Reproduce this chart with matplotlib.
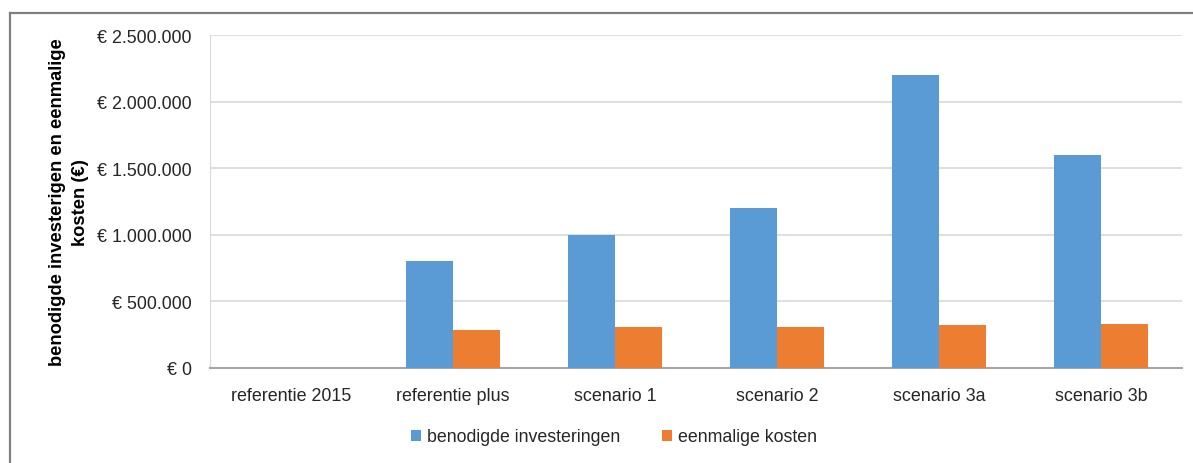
import matplotlib
matplotlib.use("Agg")
import matplotlib.pyplot as plt
from matplotlib.lines import Line2D
from matplotlib.ticker import FuncFormatter
import numpy as np

plt.rcParams['font.family'] = ['Liberation Sans', 'DejaVu Sans']

categories = ["referentie 2015", "referentie plus", "scenario 1", "scenario 2", "scenario 3a", "scenario 3b"]
investeringen = [0, 800000, 1000000, 1200000, 2200000, 1600000]
eenmalig = [0, 285000, 311000, 311000, 326000, 333000]
series_names = ["benodigde investeringen", "eenmalige kosten"]
yticks = [0, 500000, 1000000, 1500000, 2000000, 2500000]

W, H = 1193, 464
fig = plt.figure(figsize=(W/100, H/100), dpi=100)
ax = fig.add_axes([210/W, 1-369/H, (1182-210)/W, (369-36)/H])

x = np.arange(len(categories))
bw = 0.29
ax.bar(x - bw/2, investeringen, bw, color="#5B9BD5", label=series_names[0], zorder=3)
ax.bar(x + bw/2, eenmalig, bw, color="#ED7D31", label=series_names[1], zorder=3)

ax.set_xlim(-0.5, len(categories) - 0.5)
ax.set_ylim(0, 2500000)
ax.set_yticks(yticks)
def fmt(v, pos):
    if v == 0:
        return "€ 0"
    return "€ " + f"{int(v):,}".replace(",", ".")
ax.yaxis.set_major_formatter(FuncFormatter(fmt))
ax.set_xticks(x)
ax.set_xticklabels(categories)
ax.tick_params(axis='both', length=0, labelsize=12.9, colors="#404040", labelcolor="#262626")
ax.tick_params(axis='y', pad=13)
ax.tick_params(axis='x', pad=14)
ax.grid(axis='y', color="#D9D9D9", linewidth=1.2, zorder=0)
for s in ["top", "right"]:
    ax.spines[s].set_visible(False)
ax.spines["left"].set_color("#D9D9D9")
ax.spines["bottom"].set_color("#A6A6A6")
ax.spines["bottom"].set_linewidth(1.5)

ax.set_ylabel("benodigde investerigen en eenmalige\nkosten (€)", fontsize=13.2, fontweight="bold",
              color="#000000", linespacing=1.5)
ax.yaxis.set_label_coords((89 - 210) / (1182 - 210), 0.5)

leg = fig.legend(loc="center", bbox_to_anchor=(614/W, 1-438/H), ncol=2, frameon=False,
                 fontsize=12.8, handlelength=0.55, handleheight=0.55, handletextpad=0.3,
                 columnspacing=2.4)
for t in leg.get_texts():
    t.set_color("#262626")

# figure border (top and left)
fig.add_artist(Line2D([10/W, 1], [1-14/H, 1-14/H], transform=fig.transFigure, color="#808080", linewidth=1.6))
fig.add_artist(Line2D([10/W, 10/W], [0, 1-14/H], transform=fig.transFigure, color="#808080", linewidth=1.6))

fig.savefig("out.png", dpi=100)
